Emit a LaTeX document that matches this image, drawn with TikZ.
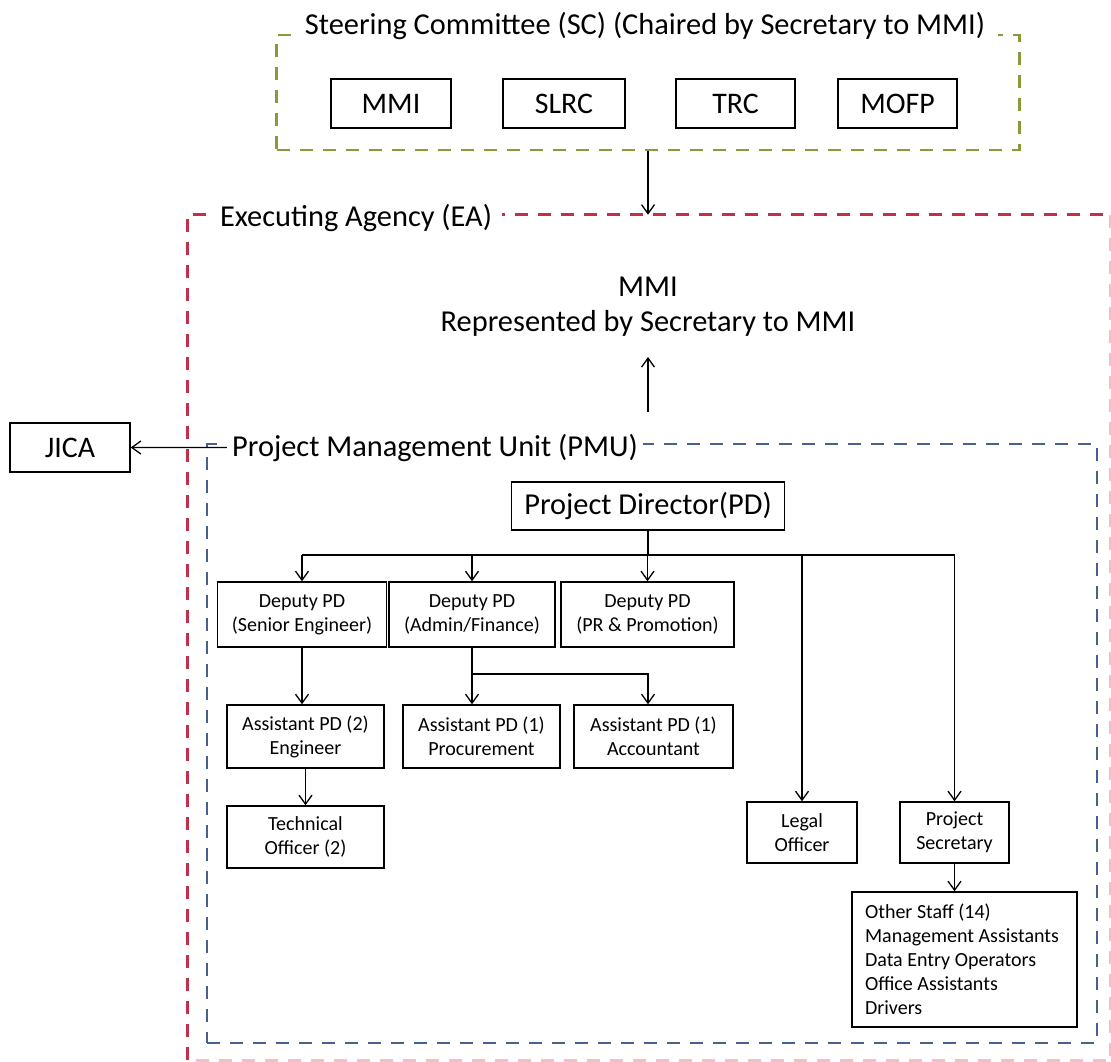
\documentclass[tikz,border=0pt]{standalone}
\usepackage{fontspec}
\setmainfont{Carlito}
\usetikzlibrary{arrows.meta}
\definecolor{scgreen}{HTML}{8A9A3A}
\definecolor{eared}{HTML}{C0304A}
\definecolor{pmublue}{HTML}{44618F}

\begin{document}
\begin{tikzpicture}[x=0.02cm,y=-0.02cm,
  big/.style={font=\fontsize{17.3}{20}\selectfont},
  boxfont/.style={font=\fontsize{17}{20}\selectfont},
  small/.style={font=\fontsize{11.4}{13.7}\selectfont, align=center},
  box/.style={draw=black, line width=0.85pt, inner sep=0pt},
  frame/.style={line width=1.5pt, dash pattern=on 0.26cm off 0.2cm, inner sep=0pt},
  title/.style={fill=white, inner xsep=0.25cm, inner ysep=2pt, big},
  arr/.style={line width=0.75pt, -{Straight Barb[length=0.18cm,width=0.26cm]}},
  link/.style={line width=0.75pt}]
\useasboundingbox (0,0) rectangle (1111,1061);

% executing agency frame; its right and bottom sides run along the page edge
\node[minimum width=18.45cm, minimum height=16.9cm, inner sep=0pt] (ea) at (649.25,637.5) {};
\draw[frame, draw=eared!30] (ea.north east) -- (ea.south east) -- (ea.south west);
\draw[frame, draw=eared] (ea.south west) -- (ea.north west) -- (ea.north east);

% project management unit and steering committee frames
\node[frame, draw=pmublue, minimum width=17.8cm, minimum height=11.98cm] (pmu) at (652,743.5) {};
\node[frame, draw=scgreen, minimum width=14.86cm, minimum height=2.3cm] (sc) at (648,92.5) {};

% frame titles
\node[title, anchor=base] (sctitle) at (645,35) {Steering Committee (SC) (Chaired by Secretary to MMI)};
\node[title, anchor=base, inner xsep=0.2cm] (eatitle) at (356,226.5) {Executing Agency (EA)};
\node[title, anchor=base, inner xsep=0.1cm] (pmutitle) at (435,456) {Project Management Unit (PMU)};

% steering committee members
\node[box, boxfont, minimum width=2.4cm, minimum height=0.98cm] (mmi) at (391,103.5) {MMI};
\node[box, boxfont, minimum width=2.44cm, minimum height=0.98cm] (slrc) at (564,103.5) {SLRC};
\node[box, boxfont, minimum width=2.38cm, minimum height=0.98cm] (trc) at (735.5,103.5) {TRC};
\node[box, boxfont, minimum width=2.38cm, minimum height=0.98cm] (mofp) at (897.5,103.5) {MOFP};

% executing agency head
\node[align=center, font=\fontsize{17.3}{19.9}\selectfont] (eahead) at (648,307) {MMI\\Represented by Secretary to MMI};
\coordinate (upfoot) at (648,412);
\coordinate (uptip) at (648,357);

% external body
\node[box, boxfont, minimum width=2.4cm, minimum height=0.98cm] (jica) at (70,447.5) {JICA};

% project management unit
\node[box, big, minimum width=5.46cm, minimum height=0.96cm] (pd) at (648,506) {Project Director(PD)};

\node[box, small, minimum width=3.38cm, minimum height=1.3cm] (d1) at (302,614.5) {Deputy PD\\(Senior Engineer)};
\node[box, small, minimum width=3.32cm, minimum height=1.3cm] (d2) at (472,614.5) {Deputy PD\\(Admin/Finance)};
\node[box, small, minimum width=3.46cm, minimum height=1.3cm] (d3) at (647.5,614.5) {Deputy PD\\(PR \& Promotion)};

\node[box, small, minimum width=3.14cm, minimum height=1.26cm] (a1) at (305.5,736.5) {Assistant PD (2)\\Engineer};
\node[box, small, minimum width=3.14cm, minimum height=1.26cm] (a2) at (481.5,736.5) {Assistant PD (1)\\Procurement};
\node[box, small, minimum width=3.18cm, minimum height=1.26cm] (a3) at (653.5,736.5) {Assistant PD (1)\\Accountant};

\node[box, small, minimum width=3.14cm, minimum height=1.24cm] (tech) at (305.5,837) {Technical\\Officer (2)};
\node[box, small, minimum width=2.2cm, minimum height=1.22cm] (legal) at (802,832.5) {Legal\\Officer};
\node[box, small, minimum width=2.18cm, minimum height=1.22cm] (ps) at (954.5,832.5) {Project\\Secretary};
\node[box, small, align=flush left, minimum width=4.5cm, minimum height=2.7cm, text width=4.5cm-0.52cm, inner xsep=0.26cm] (other) at (964.5,959.5)
  {Other Staff (14)\\Management Assistants\\Data Entry Operators\\Office Assistants\\Drivers};

% connectors
\draw[arr] (sc.south) -- (sc.south |- ea.north);
\draw[arr] (upfoot) -- (uptip);
\draw[arr] (pmutitle.west) -- (jica.east);

\coordinate (bus) at (648,555);
\draw[link] (pd.south) -- (bus);
\draw[link] (d1.north |- bus) -- (ps.north |- bus);
\draw[arr] (d1.north |- bus) -- (d1.north);
\draw[arr] (d2.north |- bus) -- (d2.north);
\draw[arr] (d3.north |- bus) -- (d3.north);
\draw[arr] (legal.north |- bus) -- (legal.north);
\draw[arr] (ps.north |- bus) -- (ps.north);

\draw[arr] (d1.south) -- (d1.south |- a1.north);
\draw[arr] (a1.south) -- (tech.north);

\coordinate (split) at (472,674);
\draw[arr] (d2.south) -- (d2.south |- a2.north);
\draw[arr] (split) -| (648,0 |- a3.north);

\draw[arr] (ps.south) -- (ps.south |- other.north);
\end{tikzpicture}
\end{document}
